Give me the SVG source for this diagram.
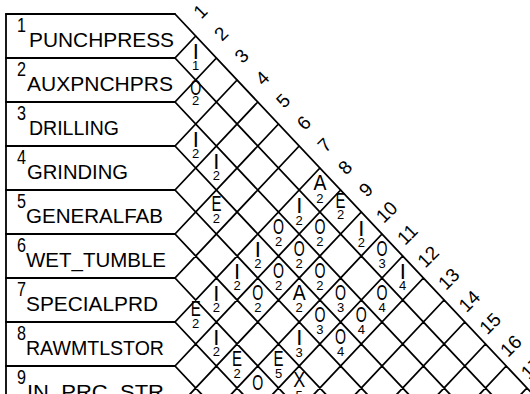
<svg xmlns="http://www.w3.org/2000/svg" width="530" height="394" viewBox="0 0 530 394">
<style>
.ln{stroke:#000;stroke-width:1.8;fill:none;stroke-linecap:round;stroke-linejoin:round}
text{font-family:"Liberation Sans",Arial,sans-serif;fill:#000}
.nm{font-size:21px}
.no{font-size:20px}
.col{font-size:19px;text-anchor:middle}
.rl{font-size:22px;text-anchor:middle}
.rn{font-size:13px;text-anchor:middle}
</style>
<rect width="530" height="394" fill="#fff"/>
<g id="frame"><path class="ln" d="M6 14 V400"/></g>
<g id="dept-1"><path class="ln" d="M6 14 H175"/><text class="no" x="17" y="32" textLength="9" lengthAdjust="spacingAndGlyphs">1</text><text class="nm" x="29" y="47" textLength="145" lengthAdjust="spacingAndGlyphs">PUNCHPRESS</text></g>
<g id="dept-2"><path class="ln" d="M6 58 H175"/><text class="no" x="17" y="76" textLength="9" lengthAdjust="spacingAndGlyphs">2</text><text class="nm" x="27" y="91" textLength="146" lengthAdjust="spacingAndGlyphs">AUXPNCHPRS</text></g>
<g id="dept-3"><path class="ln" d="M6 102 H175"/><text class="no" x="17" y="120" textLength="9" lengthAdjust="spacingAndGlyphs">3</text><text class="nm" x="29" y="135" textLength="90" lengthAdjust="spacingAndGlyphs">DRILLING</text></g>
<g id="dept-4"><path class="ln" d="M6 146 H175"/><text class="no" x="17" y="164" textLength="9" lengthAdjust="spacingAndGlyphs">4</text><text class="nm" x="27" y="179" textLength="101" lengthAdjust="spacingAndGlyphs">GRINDING</text></g>
<g id="dept-5"><path class="ln" d="M6 190 H175"/><text class="no" x="17" y="208" textLength="9" lengthAdjust="spacingAndGlyphs">5</text><text class="nm" x="26" y="223" textLength="137" lengthAdjust="spacingAndGlyphs">GENERALFAB</text></g>
<g id="dept-6"><path class="ln" d="M6 234 H175"/><text class="no" x="17" y="252" textLength="9" lengthAdjust="spacingAndGlyphs">6</text><text class="nm" x="26" y="267" textLength="140" lengthAdjust="spacingAndGlyphs">WET_TUMBLE</text></g>
<g id="dept-7"><path class="ln" d="M6 278 H175"/><text class="no" x="17" y="296" textLength="9" lengthAdjust="spacingAndGlyphs">7</text><text class="nm" x="26" y="311" textLength="132" lengthAdjust="spacingAndGlyphs">SPECIALPRD</text></g>
<g id="dept-8"><path class="ln" d="M6 322 H175"/><text class="no" x="17" y="340" textLength="9" lengthAdjust="spacingAndGlyphs">8</text><text class="nm" x="26" y="355" textLength="138" lengthAdjust="spacingAndGlyphs">RAWMTLSTOR</text></g>
<g id="dept-9"><path class="ln" d="M6 366 H175"/><text class="no" x="17" y="384" textLength="9" lengthAdjust="spacingAndGlyphs">9</text><text class="nm" x="27" y="399" textLength="137" lengthAdjust="spacingAndGlyphs">IN_PRC_STR</text></g>
<g id="grid"><path class="ln" d="M175 14 L547.6 410 M175 58 L506.2 410 M175 102 L464.8 410 M175 146 L423.4 410 M175 190 L382 410 M175 234 L340.6 410 M175 278 L299.2 410 M175 322 L257.8 410 M175 366 L216.4 410 M175 58 L195.7 36 M175 102 L216.4 58 M175 146 L237.1 80 M175 190 L257.8 102 M175 234 L278.5 124 M175 278 L299.2 146 M175 322 L319.9 168 M175 366 L340.6 190 M175 410 L361.3 212 M175 454 L382 234 M175 498 L402.7 256 M175 542 L423.4 278 M175 586 L444.1 300 M175 630 L464.8 322 M175 674 L485.5 344 M175 718 L506.2 366 M175 762 L526.9 388 M175 806 L547.6 410"/></g>
<g id="columns">
<text class="col" transform="translate(200 11) rotate(-45)" dy="7">1</text>
<text class="col" transform="translate(220.7 33.3) rotate(-45)" dy="7">2</text>
<text class="col" transform="translate(241.4 55.6) rotate(-45)" dy="7">3</text>
<text class="col" transform="translate(262.1 77.9) rotate(-45)" dy="7">4</text>
<text class="col" transform="translate(282.8 100.2) rotate(-45)" dy="7">5</text>
<text class="col" transform="translate(303.5 122.5) rotate(-45)" dy="7">6</text>
<text class="col" transform="translate(324.2 144.8) rotate(-45)" dy="7">7</text>
<text class="col" transform="translate(344.9 167.1) rotate(-45)" dy="7">8</text>
<text class="col" transform="translate(365.6 189.4) rotate(-45)" dy="7">9</text>
<text class="col" transform="translate(386.3 211.7) rotate(-45)" dy="7">10</text>
<text class="col" transform="translate(407 234) rotate(-45)" dy="7">11</text>
<text class="col" transform="translate(427.7 256.3) rotate(-45)" dy="7">12</text>
<text class="col" transform="translate(448.4 278.6) rotate(-45)" dy="7">13</text>
<text class="col" transform="translate(469.1 300.9) rotate(-45)" dy="7">14</text>
<text class="col" transform="translate(489.8 323.2) rotate(-45)" dy="7">15</text>
<text class="col" transform="translate(510.5 345.5) rotate(-45)" dy="7">16</text>
<text class="col" transform="translate(531.2 367.8) rotate(-45)" dy="7">17</text>
</g>
<g id="rel-1-2"><text class="rl" x="195.7" y="59">I</text><text class="rn" x="195.7" y="70">1</text></g>
<g id="rel-2-3"><text class="rl" x="195.7" y="95" textLength="11" lengthAdjust="spacingAndGlyphs">O</text><text class="rn" x="195.7" y="105">2</text></g>
<g id="rel-3-4"><text class="rl" x="195.7" y="147">I</text><text class="rn" x="195.7" y="158">2</text></g>
<g id="rel-3-5"><text class="rl" x="216.4" y="169">I</text><text class="rn" x="216.4" y="180">2</text></g>
<g id="rel-4-6"><text class="rl" x="216.4" y="211" textLength="10" lengthAdjust="spacingAndGlyphs">E</text><text class="rn" x="216.4" y="223">2</text></g>
<g id="rel-1-8"><text class="rl" x="319.9" y="190" textLength="13" lengthAdjust="spacingAndGlyphs">A</text><text class="rn" x="319.9" y="203">2</text></g>
<g id="rel-1-9"><text class="rl" x="340.6" y="208" textLength="10" lengthAdjust="spacingAndGlyphs">E</text><text class="rn" x="340.6" y="219">2</text></g>
<g id="rel-2-8"><text class="rl" x="299.2" y="213">I</text><text class="rn" x="299.2" y="225">2</text></g>
<g id="rel-3-8"><text class="rl" x="278.5" y="234" textLength="11" lengthAdjust="spacingAndGlyphs">O</text><text class="rn" x="278.5" y="246">2</text></g>
<g id="rel-2-9"><text class="rl" x="319.9" y="234" textLength="11" lengthAdjust="spacingAndGlyphs">O</text><text class="rn" x="319.9" y="246">2</text></g>
<g id="rel-1-10"><text class="rl" x="361.3" y="236">I</text><text class="rn" x="361.3" y="247">2</text></g>
<g id="rel-4-8"><text class="rl" x="257.8" y="257">I</text><text class="rn" x="257.8" y="268">2</text></g>
<g id="rel-3-9"><text class="rl" x="299.2" y="256" textLength="11" lengthAdjust="spacingAndGlyphs">O</text><text class="rn" x="299.2" y="268">2</text></g>
<g id="rel-1-11"><text class="rl" x="382" y="256" textLength="11" lengthAdjust="spacingAndGlyphs">O</text><text class="rn" x="382" y="268">3</text></g>
<g id="rel-5-8"><text class="rl" x="237.1" y="279">I</text><text class="rn" x="237.1" y="290">2</text></g>
<g id="rel-4-9"><text class="rl" x="278.5" y="278" textLength="11" lengthAdjust="spacingAndGlyphs">O</text><text class="rn" x="278.5" y="290">2</text></g>
<g id="rel-3-10"><text class="rl" x="319.9" y="278" textLength="11" lengthAdjust="spacingAndGlyphs">O</text><text class="rn" x="319.9" y="290">2</text></g>
<g id="rel-1-12"><text class="rl" x="402.7" y="279">I</text><text class="rn" x="402.7" y="290">4</text></g>
<g id="rel-6-8"><text class="rl" x="216.4" y="301">I</text><text class="rn" x="216.4" y="312">2</text></g>
<g id="rel-5-9"><text class="rl" x="257.8" y="300" textLength="11" lengthAdjust="spacingAndGlyphs">O</text><text class="rn" x="257.8" y="312">2</text></g>
<g id="rel-4-10"><text class="rl" x="299.2" y="300" textLength="13" lengthAdjust="spacingAndGlyphs">A</text><text class="rn" x="299.2" y="312">2</text></g>
<g id="rel-3-11"><text class="rl" x="340.6" y="300" textLength="11" lengthAdjust="spacingAndGlyphs">O</text><text class="rn" x="340.6" y="312">3</text></g>
<g id="rel-2-12"><text class="rl" x="382" y="300" textLength="11" lengthAdjust="spacingAndGlyphs">O</text><text class="rn" x="382" y="312">4</text></g>
<g id="rel-7-8"><text class="rl" x="195.7" y="316" textLength="10" lengthAdjust="spacingAndGlyphs">E</text><text class="rn" x="195.7" y="328">2</text></g>
<g id="rel-4-11"><text class="rl" x="319.9" y="322" textLength="11" lengthAdjust="spacingAndGlyphs">O</text><text class="rn" x="319.9" y="334">3</text></g>
<g id="rel-3-12"><text class="rl" x="361.3" y="322" textLength="11" lengthAdjust="spacingAndGlyphs">O</text><text class="rn" x="361.3" y="334">4</text></g>
<g id="rel-7-9"><text class="rl" x="216.4" y="345">I</text><text class="rn" x="216.4" y="356">2</text></g>
<g id="rel-5-11"><text class="rl" x="299.2" y="345">I</text><text class="rn" x="299.2" y="357">3</text></g>
<g id="rel-4-12"><text class="rl" x="340.6" y="344" textLength="11" lengthAdjust="spacingAndGlyphs">O</text><text class="rn" x="340.6" y="356">4</text></g>
<g id="rel-7-10"><text class="rl" x="237.1" y="366" textLength="10" lengthAdjust="spacingAndGlyphs">E</text><text class="rn" x="237.1" y="378">2</text></g>
<g id="rel-6-11"><text class="rl" x="278.5" y="366" textLength="10" lengthAdjust="spacingAndGlyphs">E</text><text class="rn" x="278.5" y="378">5</text></g>
<g id="rel-7-11"><text class="rl" x="257.8" y="390" textLength="11" lengthAdjust="spacingAndGlyphs">O</text></g>
<g id="rel-6-12"><text class="rl" x="299.2" y="387" textLength="12" lengthAdjust="spacingAndGlyphs">X</text><text class="rn" x="299.2" y="400">5</text></g>
</svg>
